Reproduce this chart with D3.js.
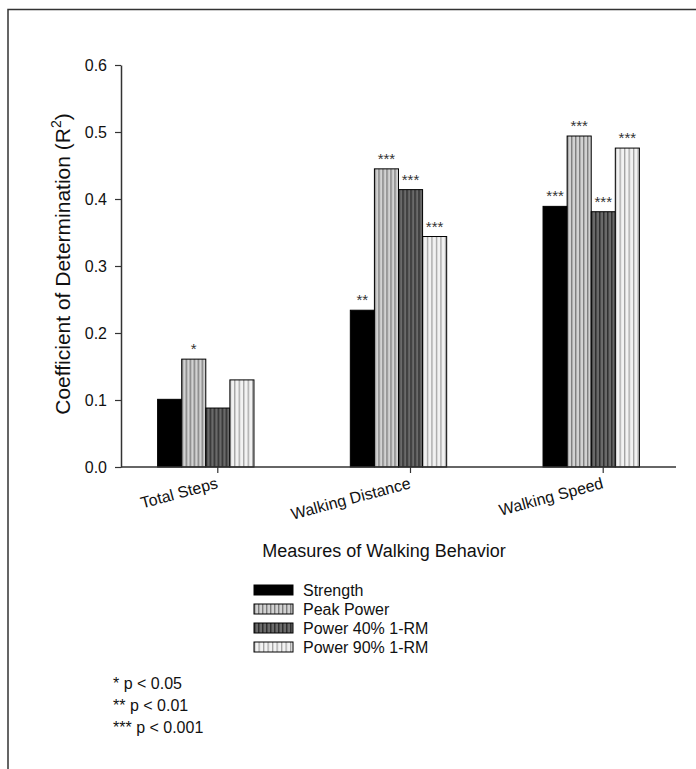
<!DOCTYPE html>
<html>
<head>
<meta charset="utf-8">
<script src="https://cdn.jsdelivr.net/npm/d3@7"></script>
<style>
  body { margin: 0; background: #fff; }
  svg { display: block; font-family: "Liberation Sans", Arial, sans-serif; }
</style>
</head>
<body>
<svg id="chart"></svg>
<script>
// data
const categories = ['Total Steps', 'Walking Distance', 'Walking Speed'];
const seriesNames = ['Strength', 'Peak Power', 'Power 40% 1-RM', 'Power 90% 1-RM'];
const strength = [0.101, 0.234, 0.389];
const peakPower = [0.161, 0.445, 0.494];
const power40 = [0.088, 0.414, 0.381];
const power90 = [0.130, 0.344, 0.476];
const sigStrength = ['', '**', '***'];
const sigPeak = ['*', '***', '***'];
const sig40 = ['', '***', '***'];
const sig90 = ['', '***', '***'];
const yTicks = [0.0, 0.1, 0.2, 0.3, 0.4, 0.5, 0.6];
const pNotes = ['* p < 0.05', '** p < 0.01', '*** p < 0.001'];

const seriesValues = [strength, peakPower, power40, power90];
const seriesSig = [sigStrength, sigPeak, sig40, sig90];
const fills = ['#000', 'url(#pPeak)', 'url(#p40)', 'url(#p90)'];

const width = 696, height = 769;
const svg = d3.select('#chart').attr('width', width).attr('height', height);

// stripe patterns
const defs = svg.append('defs');
function stripes(id, bg, line, period, lw) {
  const p = defs.append('pattern')
    .attr('id', id)
    .attr('patternUnits', 'userSpaceOnUse')
    .attr('width', period)
    .attr('height', 10);
  p.append('rect').attr('width', period).attr('height', 10).attr('fill', bg);
  p.append('rect').attr('x', 0).attr('width', lw).attr('height', 10).attr('fill', line);
}
stripes('pPeak', '#d2d2d2', '#7c7c7c', 4, 1.4);
stripes('p40', '#6a6a6a', '#2e2e2e', 4, 1.5);
stripes('p90', '#f2f2f2', '#a2a2a2', 4.5, 1.3);

// outer frame (runs off the right and bottom edges)
svg.append('path')
  .attr('d', `M8,${height + 5} L8,9.5 L${width + 5},9.5`)
  .attr('fill', 'none')
  .attr('stroke', '#333')
  .attr('stroke-width', 1.5);

const x0 = d3.scaleBand()
  .domain(categories)
  .range([121, 676])
  .paddingInner(0.5)
  .paddingOuter(0.19);
const x1 = d3.scaleBand()
  .domain(seriesNames)
  .range([0, x0.bandwidth()]);
const y = d3.scaleLinear().domain([0, 0.6]).range([467, 65]);

// y axis
const yAxis = svg.append('g')
  .attr('transform', 'translate(121,0)')
  .call(d3.axisLeft(y).tickValues(yTicks).tickFormat(d3.format('.1f')).tickSize(6).tickSizeOuter(0));
yAxis.select('.domain').attr('stroke', '#333').attr('stroke-width', 1.5);
yAxis.selectAll('.tick line').attr('stroke', '#333').attr('stroke-width', 1.2);
yAxis.selectAll('.tick text')
  .attr('x', -14)
  .attr('font-size', 16)
  .attr('font-family', '"Liberation Sans", Arial, sans-serif')
  .attr('fill', '#111');

// bars
const groups = svg.append('g')
  .selectAll('g')
  .data(categories)
  .join('g')
  .attr('transform', d => `translate(${x0(d)},0)`);

groups.selectAll('rect')
  .data((c, ci) => seriesNames.map((s, si) => ({ s, si, v: seriesValues[si][ci], sig: seriesSig[si][ci] })))
  .join('rect')
  .attr('x', d => x1(d.s))
  .attr('y', d => y(d.v))
  .attr('width', x1.bandwidth())
  .attr('height', d => y(0) - y(d.v))
  .attr('fill', d => fills[d.si])
  .attr('stroke', '#000')
  .attr('stroke-width', 1);

groups.selectAll('text.sig')
  .data((c, ci) => seriesNames.map((s, si) => ({ s, si, v: seriesValues[si][ci], sig: seriesSig[si][ci] })))
  .join('text')
  .attr('class', 'sig')
  .attr('x', d => x1(d.s) + x1.bandwidth() / 2)
  .attr('y', d => y(d.v) - 5)
  .attr('text-anchor', 'middle')
  .attr('font-size', 15)
  .attr('fill', '#333')
  .text(d => d.sig);

// x axis
const xg = svg.append('g');
xg.append('line')
  .attr('x1', 121).attr('x2', 676)
  .attr('y1', y(0)).attr('y2', y(0))
  .attr('stroke', '#333').attr('stroke-width', 1.5);
const tickX = c => x0(c) + x0.bandwidth() / 2 + 12;
xg.selectAll('line.tick')
  .data(categories)
  .join('line')
  .attr('class', 'tick')
  .attr('x1', tickX).attr('x2', tickX)
  .attr('y1', y(0)).attr('y2', y(0) + 6)
  .attr('stroke', '#333').attr('stroke-width', 1.2);
xg.selectAll('text')
  .data(categories)
  .join('text')
  .attr('transform', c => `translate(${tickX(c) + 1},${y(0) + 21}) rotate(-15)`)
  .attr('text-anchor', 'end')
  .attr('font-size', 16)
  .attr('fill', '#111')
  .text(c => c);

// axis titles
const yTitle = svg.append('text')
  .attr('transform', 'translate(70,264) rotate(-90)')
  .attr('text-anchor', 'middle')
  .attr('font-size', 21)
  .attr('fill', '#111');
yTitle.append('tspan').text('Coefficient of Determination (R');
yTitle.append('tspan').attr('font-size', 14).attr('dy', -9).text('2');
yTitle.append('tspan').attr('dy', 9).text(')');

svg.append('text')
  .attr('x', 384)
  .attr('y', 557)
  .attr('text-anchor', 'middle')
  .attr('font-size', 18)
  .attr('fill', '#111')
  .text('Measures of Walking Behavior');

// legend
const legend = svg.append('g')
  .selectAll('g')
  .data(seriesNames)
  .join('g')
  .attr('transform', (d, i) => `translate(254,${585 + i * 19})`);
legend.append('rect')
  .attr('width', 39).attr('height', 10)
  .attr('fill', (d, i) => fills[i])
  .attr('stroke', '#000').attr('stroke-width', 1);
legend.append('text')
  .attr('x', 49).attr('y', 11)
  .attr('font-size', 16)
  .attr('fill', '#111')
  .text(d => d);

// significance notes
svg.append('g')
  .selectAll('text')
  .data(pNotes)
  .join('text')
  .attr('x', 113)
  .attr('y', (d, i) => 689 + i * 22)
  .attr('font-size', 16)
  .attr('fill', '#111')
  .text(d => d);
</script>
</body>
</html>
